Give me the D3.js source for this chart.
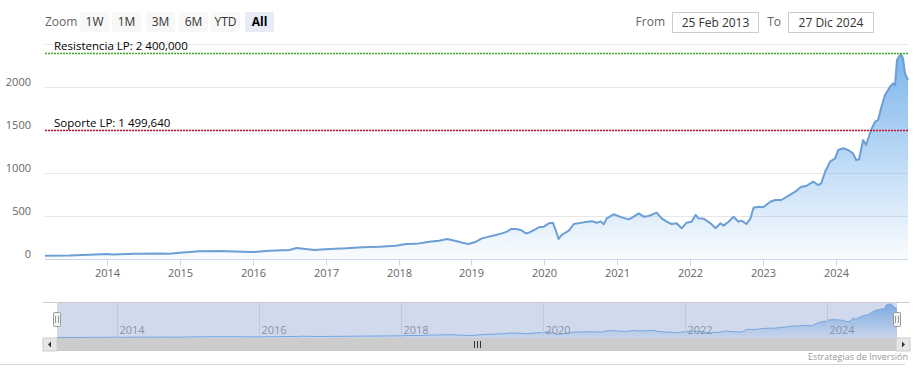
<!DOCTYPE html>
<html><head><meta charset="utf-8">
<script src="https://cdn.jsdelivr.net/npm/d3@7"></script>
<style>
html,body{margin:0;padding:0;background:#fff;}
svg{display:block;font-family:"Open Sans",sans-serif;}
</style></head>
<body><svg id="c" width="919" height="385"></svg>
<script>
// ---- data ----
const dates = ["2013-02-25","2013-06-25","2013-10-08","2014-01-01","2014-01-30","2014-05-20","2014-09-25","2014-11-10","2015-01-01","2015-04-10","2015-07-20","2015-10-01","2016-01-01","2016-03-25","2016-07-05","2016-08-08","2016-11-06",
"2017-01-20","2017-04-15","2017-07-03","2017-09-26","2017-12-19","2018-02-08","2018-03-30","2018-06-03","2018-07-23","2018-09-01","2018-10-16","2018-11-15","2018-12-19",
"2019-01-24","2019-02-23","2019-03-30","2019-05-04","2019-06-03","2019-06-28","2019-07-18","2019-08-12","2019-09-06","2019-10-01","2019-10-16","2019-11-10","2019-12-05","2019-12-30",
"2020-01-24","2020-02-13","2020-02-27","2020-03-13","2020-03-28","2020-05-03","2020-05-28","2020-07-17","2020-08-26","2020-09-20","2020-10-10","2020-10-25","2020-11-09","2020-12-14",
"2021-01-23","2021-02-27","2021-03-24","2021-04-18","2021-05-13","2021-06-07","2021-07-17","2021-08-11","2021-09-05","2021-09-30","2021-10-25","2021-11-19","2021-12-14",
"2022-01-08","2022-01-28","2022-02-12","2022-03-09","2022-04-13","2022-05-08","2022-06-02","2022-06-17","2022-07-12","2022-08-06","2022-08-31","2022-09-15","2022-10-10","2022-10-30","2022-11-14","2022-12-09",
"2023-01-02","2023-02-06","2023-03-03","2023-04-02","2023-05-07","2023-06-11","2023-07-11","2023-08-05","2023-09-09","2023-10-04","2023-10-19","2023-11-08","2023-12-03","2023-12-28",
"2024-01-12","2024-02-06","2024-03-02","2024-03-27","2024-04-11","2024-04-26","2024-05-16","2024-05-31","2024-06-25","2024-07-15","2024-07-30","2024-08-14","2024-09-03","2024-09-28","2024-10-13","2024-10-23","2024-11-02","2024-11-17","2024-11-22","2024-12-02","2024-12-12","2024-12-27"];
const values = [38,40,50,58,52,60,65,60,73,90,92,88,80,95,105,128,105,
116,124,136,143,155,174,176,201,213,233,209,190,174,
201,240,260,279,298,318,349,349,337,298,306,337,368,376,
415,422,337,233,279,330,407,426,438,422,438,403,473,520,
484,461,492,531,492,500,539,473,434,407,415,357,422,
434,512,473,469,415,357,415,388,434,492,434,446,407,473,597,608,
601,666,686,686,733,783,841,849,899,860,880,1015,1132,1170,
1267,1287,1267,1229,1151,1160,1384,1326,1500,1597,1616,1752,1907,2004,2043,2023,2314,2372,2384,2333,2159,2081];
const yTicks = [0,500,1000,1500,2000];
const yGrid = [500,1000,1500,2000,2500];
const xTickYears = [2014,2015,2016,2017,2018,2019,2020,2021,2022,2023,2024];
const navTickYears = [2014,2016,2018,2020,2022,2024];
const zoomButtons = ["1W","1M","3M","6M","YTD","All"];
const plotLineValues = [2400, 1499.64];
const plotLineLabels = ["Resistencia LP: 2 400,000","Soporte LP: 1 499,640"];
const plotLineColors = ["#3faa1f","#c8102e"];
const fromLabel = "25 Feb 2013", toLabel = "27 Dic 2024";
const credits = "Estrategias de Inversión";

const parse = d3.timeParse("%Y-%m-%d");
const data = dates.map((d,i)=>({date:parse(d), value:values[i]}));
const svg = d3.select("#c");
const defs = svg.append("defs");

// ---- main scales ----
const x = d3.scaleTime().domain([parse("2013-02-25"), parse("2024-12-27")]).range([45, 908]);
const y = d3.scaleLinear().domain([0, 2500]).range([259, 44]);

// gradient
const g1 = defs.append("linearGradient").attr("id","ga").attr("x1",0).attr("y1",0).attr("x2",0).attr("y2",1);
g1.append("stop").attr("offset","0%").attr("stop-color","#7cb5ec").attr("stop-opacity",1);
g1.append("stop").attr("offset","100%").attr("stop-color","#7cb5ec").attr("stop-opacity",0.04);

// grid
svg.append("g").selectAll("line").data(yGrid).join("line")
  .attr("x1",45).attr("x2",908).attr("y1",d=>Math.round(y(d))+0.5).attr("y2",d=>Math.round(y(d))+0.5)
  .attr("stroke","#e6e6e6").attr("stroke-width",1);

// y labels
svg.append("g").selectAll("text").data(yTicks).join("text")
  .attr("x",31).attr("y",d=>y(d)-1).attr("text-anchor","end")
  .attr("fill","#666").attr("font-size",11).text(d=>d);

// area + line
const area = d3.area().x(d=>x(d.date)).y0(y(0)).y1(d=>y(d.value));
const line = d3.line().x(d=>x(d.date)).y(d=>y(d.value));
svg.append("path").datum(data).attr("d",area).attr("fill","url(#ga)");
svg.append("path").datum(data).attr("d",line).attr("fill","none").attr("stroke","#6b9fd6").attr("stroke-width",2).attr("stroke-linejoin","round");

// x axis
const xAxisY = 259.5;
svg.append("line").attr("x1",45).attr("x2",908).attr("y1",xAxisY).attr("y2",xAxisY).attr("stroke","#ccd6eb");
const xt = svg.append("g");
xTickYears.forEach(yr=>{
  const px = Math.round(x(new Date(yr,0,1)))+0.5;
  xt.append("line").attr("x1",px).attr("x2",px).attr("y1",xAxisY).attr("y2",xAxisY+6).attr("stroke","#ccd6eb");
  xt.append("text").attr("x",px).attr("y",277).attr("text-anchor","middle").attr("fill","#666").attr("font-size",11).text(yr);
});

// plot lines
plotLineValues.forEach((v,i)=>{
  const py = Math.round(y(v));
  svg.append("rect").attr("x",45).attr("y",py).attr("width",863).attr("height",1)
    .attr("fill","none").attr("stroke","none");
  svg.append("line").attr("x1",45).attr("x2",908).attr("y1",py+0.5).attr("y2",py+0.5)
    .style("stroke",plotLineColors[i]).attr("stroke-width",1.3).attr("stroke-dasharray","2,1");
  svg.append("text").attr("x",54).attr("y",py-3).attr("fill","#000").attr("font-size",11.5).text(plotLineLabels[i]);
});

// ---- range selector ----
svg.append("text").attr("x",45).attr("y",26).attr("fill","#666").attr("font-size",12).text("Zoom");
const btnX = [80,112,146,179,211,245];
zoomButtons.forEach((b,i)=>{
  const sel = b==="All";
  svg.append("rect").attr("x",btnX[i]).attr("y",12).attr("width",29).attr("height",20).attr("rx",2)
    .attr("fill", sel ? "#e6ebf5" : "#f7f7f7");
  svg.append("text").attr("x",btnX[i]+14.5).attr("y",26).attr("text-anchor","middle")
    .attr("fill", sel ? "#000" : "#333").attr("font-weight", sel ? "bold" : "normal").attr("font-size",12).text(b);
});
svg.append("text").attr("x",665).attr("y",26).attr("text-anchor","end").attr("fill","#666").attr("font-size",12).text("From");
svg.append("rect").attr("x",672.5).attr("y",12.5).attr("width",86).attr("height",20).attr("fill","#fff").attr("stroke","#ccc");
svg.append("text").attr("x",715.5).attr("y",26.5).attr("text-anchor","middle").attr("fill","#333").attr("font-size",12).text(fromLabel);
svg.append("text").attr("x",781).attr("y",26).attr("text-anchor","end").attr("fill","#666").attr("font-size",12).text("To");
svg.append("rect").attr("x",788.5).attr("y",12.5).attr("width",85).attr("height",20).attr("fill","#fff").attr("stroke","#ccc");
svg.append("text").attr("x",831).attr("y",26.5).attr("text-anchor","middle").attr("fill","#333").attr("font-size",12).text(toLabel);

// ---- navigator ----
const nx = d3.scaleTime().domain(x.domain()).range([57, 897]);
const ny = d3.scaleLinear().domain([0, d3.max(values)]).range([338, 304]);
const g2 = defs.append("linearGradient").attr("id","gn").attr("x1",0).attr("y1",0).attr("x2",0).attr("y2",1);
g2.append("stop").attr("offset","0%").attr("stop-color","#7cb5ec").attr("stop-opacity",0.9);
g2.append("stop").attr("offset","100%").attr("stop-color","#7cb5ec").attr("stop-opacity",0.1);
svg.append("line").attr("x1",43).attr("x2",910).attr("y1",302.5).attr("y2",302.5).attr("stroke","#cccccc");
const nav = svg.append("g");
nav.append("path").datum(data).attr("d",d3.area().x(d=>nx(d.date)).y0(338).y1(d=>ny(d.value))).attr("fill","url(#gn)");
nav.append("path").datum(data).attr("d",d3.line().x(d=>nx(d.date)).y(d=>ny(d.value))).attr("fill","none").attr("stroke","#7cb5ec").attr("stroke-width",1);
navTickYears.forEach(yr=>{
  const px = Math.round(nx(new Date(yr,0,1)))+0.5;
  nav.append("line").attr("x1",px).attr("x2",px).attr("y1",303).attr("y2",338).attr("stroke","#e6e6e6");
  nav.append("text").attr("x",px+2).attr("y",334).attr("fill","#999").attr("font-size",11).text(yr);
});
// mask
svg.append("rect").attr("x",57).attr("y",303).attr("width",840).attr("height",35).attr("fill","rgba(102,133,194,0.3)");
// handles
[57,897].forEach(hx=>{
  svg.append("rect").attr("x",hx-3.5).attr("y",312.5).attr("width",7).attr("height",14).attr("rx",1)
    .attr("fill","#f2f2f2").attr("stroke","#999");
  svg.append("line").attr("x1",hx-1.5).attr("x2",hx-1.5).attr("y1",316).attr("y2",323).attr("stroke","#999");
  svg.append("line").attr("x1",hx+1.5).attr("x2",hx+1.5).attr("y1",316).attr("y2",323).attr("stroke","#999");
});
// scrollbar
svg.append("rect").attr("x",43).attr("y",338).attr("width",867).attr("height",13).attr("fill","#f2f2f2");
svg.append("rect").attr("x",57).attr("y",338).attr("width",839).attr("height",13).attr("fill","#cccccc");
svg.append("rect").attr("x",43).attr("y",338).attr("width",14).attr("height",13).attr("fill","#e6e6e6").attr("stroke","#cccccc");
svg.append("rect").attr("x",896).attr("y",338).attr("width",14).attr("height",13).attr("fill","#e6e6e6").attr("stroke","#cccccc");
svg.append("path").attr("d","M51,341.5 L48,344.5 L51,347.5 Z").attr("fill","#333");
svg.append("path").attr("d","M902,341.5 L905,344.5 L902,347.5 Z").attr("fill","#333");
[474,477,480].forEach(gx=>svg.append("line").attr("x1",gx+0.5).attr("x2",gx+0.5).attr("y1",341).attr("y2",348).attr("stroke","#333"));

// credits & bottom line
svg.append("text").attr("x",908).attr("y",360).attr("text-anchor","end").attr("fill","#999").attr("font-size",9).text(credits);
svg.append("line").attr("x1",0).attr("x2",905).attr("y1",364.5).attr("y2",364.5).attr("stroke","#d8d8d8");
</script></body></html>
